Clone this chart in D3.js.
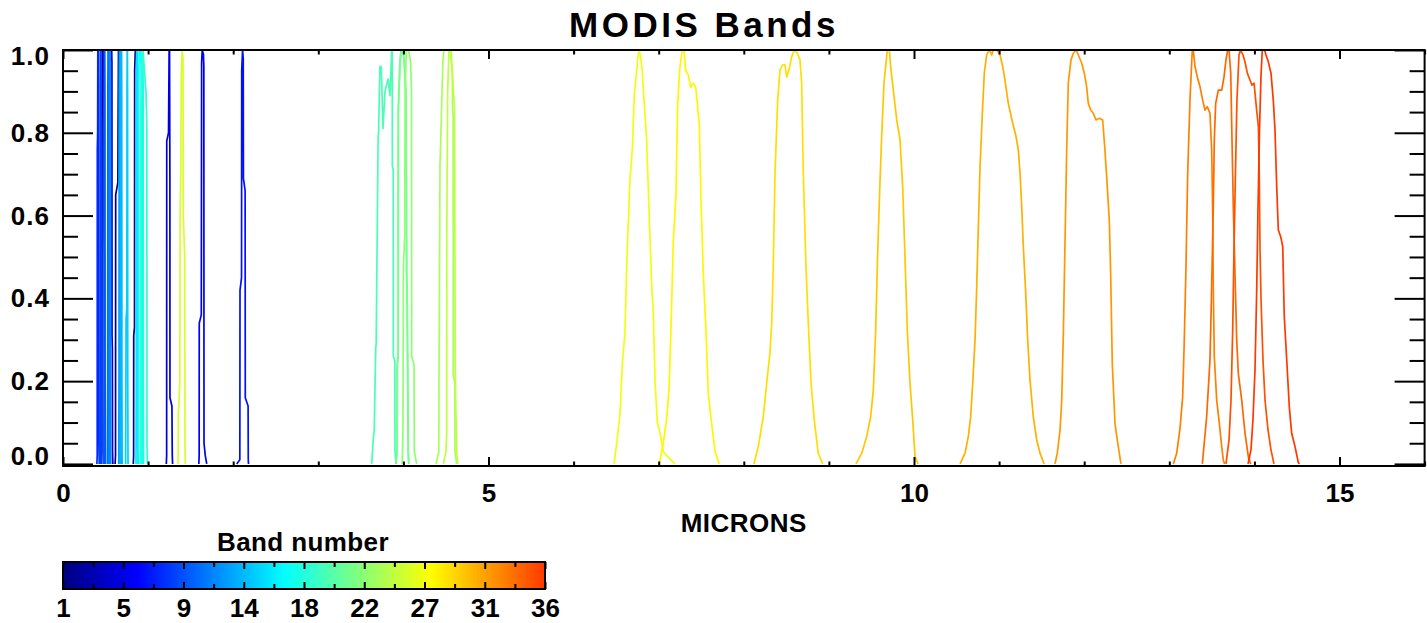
<!DOCTYPE html>
<html>
<head>
<meta charset="utf-8">
<script src="https://cdn.jsdelivr.net/npm/d3@7"></script>
<style>
	body { margin: 0; background: #fff; }
	text { font-family: "Liberation Sans", Arial, sans-serif; font-weight: bold; fill: #000; }
</style>
</head>
<body>
<div id="chart"></div>
<script>
// Relative spectral response of each MODIS band, [wavelength (microns), response]
const b01 = [[0.612,0],[0.617,0.02],[0.619,0.65],[0.645,0.68],[0.647,0.8],[0.652,1],[0.664,1],[0.669,0.95],[0.671,0.3],[0.676,0.02],[0.680,0]];
const b02 = [[0.826,0],[0.830,0.02],[0.831,0.31],[0.840,0.33],[0.842,0.95],[0.850,1],[0.865,1],[0.869,0.98],[0.870,0.52],[0.874,0.5],[0.877,0.05],[0.882,0]];
const b03 = [[0.452,0],[0.457,0.03],[0.459,0.8],[0.463,1],[0.478,1],[0.481,0.97],[0.482,0.56],[0.486,0.5],[0.488,0.05],[0.492,0]];
const b04 = [[0.540,0],[0.544,0.03],[0.546,0.85],[0.552,1],[0.572,1],[0.575,0.97],[0.576,0.31],[0.580,0.28],[0.582,0.03],[0.586,0]];
const b05 = [[1.214,0],[1.218,0.02],[1.219,0.78],[1.240,0.80],[1.247,1],[1.252,1],[1.256,0.70],[1.257,0.16],[1.280,0.14],[1.284,0.02],[1.288,0]];
const b06 = [[1.596,0],[1.600,0.02],[1.601,0.34],[1.625,0.36],[1.629,0.97],[1.636,1],[1.650,0.99],[1.655,0.96],[1.657,0.05],[1.672,0.02],[1.689,0]];
const b07 = [[2.041,0],[2.078,0.01],[2.080,0.42],[2.098,0.45],[2.100,0.95],[2.110,1],[2.118,0.98],[2.120,0.69],[2.140,0.66],[2.142,0.16],[2.175,0.14],[2.177,0.01],[2.180,0]];
const b08 = [[0.398,0],[0.402,0.02],[0.403,0.76],[0.407,0.8],[0.409,1],[0.418,1],[0.420,0.7],[0.422,0.05],[0.426,0]];
const b09 = [[0.434,0],[0.437,0.2],[0.439,0.9],[0.441,1],[0.446,1],[0.448,0.9],[0.450,0.2],[0.453,0]];
const b10 = [[0.479,0],[0.482,0.2],[0.484,0.9],[0.486,1],[0.491,1],[0.493,0.9],[0.495,0.2],[0.498,0]];
const b11 = [[0.522,0],[0.525,0.2],[0.527,0.9],[0.529,1],[0.534,1],[0.536,0.9],[0.538,0.2],[0.541,0]];
const b12 = [[0.542,0],[0.545,0.2],[0.547,0.9],[0.549,1],[0.554,1],[0.556,0.9],[0.558,0.2],[0.561,0]];
const b13 = [[0.655,0],[0.658,0.2],[0.660,0.9],[0.663,1],[0.668,1],[0.670,0.9],[0.672,0.2],[0.675,0]];
const b14 = [[0.672,0],[0.675,0.2],[0.677,0.9],[0.680,1],[0.688,1],[0.690,0.9],[0.692,0.2],[0.695,0]];
const b15 = [[0.736,0],[0.739,0.2],[0.741,0.35],[0.750,0.38],[0.752,0.9],[0.754,1],[0.757,1],[0.759,0.9],[0.761,0.2],[0.764,0]];
const b16 = [[0.858,0],[0.861,0.2],[0.863,0.9],[0.866,1],[0.873,1],[0.875,0.9],[0.877,0.2],[0.880,0]];
const b17 = [[0.880,0],[0.885,0.05],[0.888,0.9],[0.895,1],[0.915,1],[0.920,0.9],[0.924,0.05],[0.930,0]];
const b18 = [[0.925,0],[0.928,0.2],[0.930,0.9],[0.933,1],[0.940,1],[0.942,0.9],[0.944,0.2],[0.947,0]];
const b19 = [[0.905,0],[0.910,0.05],[0.913,0.85],[0.925,0.95],[0.940,1],[0.975,0.9],[0.985,0.82],[0.987,0.05],[0.992,0]];
const b20 = [[3.627,0],[3.650,0.07],[3.657,0.08],[3.675,0.28],[3.680,0.29],[3.703,0.79],[3.708,0.80],[3.724,0.96],[3.740,0.96],[3.760,0.81],[3.784,0.90],[3.819,0.93],[3.843,0.89],[3.862,1.0],[3.869,1.0],[3.870,0.72],[3.880,0.71],[3.881,0.26],[3.899,0.25],[3.901,0.03],[3.913,0]];
const b21 = [[3.910,0],[3.926,0.03],[3.928,0.24],[3.938,0.26],[3.940,0.86],[3.958,0.97],[3.972,1.0],[3.995,1.0],[4.010,0.97],[4.030,0.9],[4.038,0.45],[4.042,0.44],[4.056,0.03],[4.062,0]];
const b22 = [[3.912,0],[3.927,0.03],[3.929,0.24],[3.939,0.27],[3.941,0.85],[3.960,0.96],[3.975,1.0],[3.998,1.0],[4.012,0.96],[4.031,0.88],[4.039,0.44],[4.044,0.43],[4.058,0.03],[4.064,0]];
const b23 = [[3.985,0],[3.992,0.05],[3.995,0.09],[4.000,0.48],[4.015,0.55],[4.020,0.9],[4.035,1.0],[4.060,1.0],[4.085,0.97],[4.095,0.9],[4.097,0.26],[4.125,0.24],[4.128,0.03],[4.156,0]];
const b24 = [[4.383,0],[4.416,0.03],[4.418,0.17],[4.430,0.72],[4.465,0.98],[4.477,1.0],[4.547,1.0],[4.575,0.95],[4.577,0.86],[4.585,0.84],[4.586,0.21],[4.604,0.2],[4.606,0.03],[4.626,0]];
const b25 = [[4.470,0],[4.500,0.03],[4.509,0.075],[4.510,0.55],[4.520,0.9],[4.535,1.0],[4.560,1.0],[4.600,0.86],[4.606,0.5],[4.610,0.2],[4.626,0.03],[4.640,0]];
const b26 = [[1.352,0],[1.356,0.12],[1.373,0.20],[1.376,0.60],[1.386,0.75],[1.389,0.93],[1.400,1],[1.410,0.98],[1.414,0.60],[1.430,0.50],[1.433,0.05],[1.437,0]];
const b27 = [[6.475,0],[6.507,0.05],[6.545,0.12],[6.572,0.24],[6.604,0.32],[6.624,0.48],[6.663,0.69],[6.690,0.76],[6.713,0.89],[6.741,0.95],[6.760,0.99],[6.772,1.0],[6.789,0.98],[6.807,0.95],[6.827,0.88],[6.859,0.78],[6.890,0.59],[6.918,0.43],[6.937,0.36],[6.957,0.20],[6.984,0.10],[7.016,0.075],[7.054,0.03],[7.094,0.02],[7.192,0]];
const b28 = [[7.007,0],[7.054,0.05],[7.094,0.11],[7.121,0.18],[7.145,0.33],[7.172,0.54],[7.203,0.65],[7.223,0.87],[7.250,0.96],[7.277,1.0],[7.297,1.0],[7.317,0.95],[7.348,0.94],[7.376,0.91],[7.407,0.92],[7.435,0.91],[7.454,0.87],[7.477,0.82],[7.497,0.64],[7.524,0.46],[7.556,0.32],[7.583,0.17],[7.615,0.11],[7.662,0.03],[7.712,0]];
const b29 = [[8.119,0],[8.170,0.042],[8.229,0.114],[8.269,0.195],[8.307,0.268],[8.328,0.340],[8.346,0.476],[8.367,0.703],[8.398,0.879],[8.425,0.952],[8.457,0.964],[8.484,0.964],[8.504,0.935],[8.531,0.952],[8.563,0.984],[8.593,1.0],[8.628,0.993],[8.660,0.976],[8.680,0.92],[8.699,0.703],[8.731,0.476],[8.758,0.340],[8.790,0.195],[8.828,0.106],[8.875,0.026],[8.927,0]];
const b30 = [[9.318,0],[9.386,0.026],[9.444,0.066],[9.491,0.114],[9.522,0.179],[9.550,0.324],[9.573,0.51],[9.600,0.679],[9.620,0.791],[9.647,0.92],[9.671,0.968],[9.686,1.0],[9.710,1.0],[9.726,0.96],[9.757,0.903],[9.797,0.831],[9.836,0.783],[9.867,0.67],[9.894,0.501],[9.921,0.324],[9.953,0.195],[9.985,0.106],[10.012,0.017],[10.050,0]];
const b31 = [[10.541,0],[10.600,0.026],[10.638,0.066],[10.666,0.114],[10.690,0.195],[10.717,0.299],[10.737,0.428],[10.756,0.573],[10.776,0.718],[10.803,0.847],[10.826,0.944],[10.854,0.988],[10.885,1.0],[10.913,0.988],[10.932,1.0],[10.972,1.0],[11.011,0.988],[11.042,0.96],[11.069,0.927],[11.108,0.871],[11.160,0.823],[11.199,0.791],[11.226,0.758],[11.246,0.702],[11.266,0.621],[11.285,0.524],[11.313,0.412],[11.336,0.299],[11.363,0.203],[11.402,0.114],[11.442,0.058],[11.481,0.026],[11.528,0]];
const b32 = [[11.657,0],[11.684,0.026],[11.716,0.082],[11.736,0.154],[11.755,0.316],[11.775,0.541],[11.795,0.766],[11.813,0.92],[11.845,0.976],[11.872,0.992],[11.904,1.0],[11.931,0.988],[11.971,0.968],[12.001,0.944],[12.029,0.911],[12.048,0.871],[12.076,0.855],[12.107,0.847],[12.139,0.831],[12.177,0.835],[12.217,0.831],[12.244,0.758],[12.271,0.67],[12.295,0.589],[12.311,0.46],[12.330,0.242],[12.362,0.097],[12.401,0.041],[12.432,0]];
const b33 = [[13.047,0],[13.087,0.026],[13.126,0.086],[13.157,0.162],[13.176,0.299],[13.196,0.476],[13.216,0.702],[13.243,0.879],[13.270,1.0],[13.282,1.0],[13.302,0.96],[13.329,0.935],[13.361,0.911],[13.392,0.879],[13.419,0.855],[13.447,0.863],[13.478,0.847],[13.498,0.758],[13.510,0.605],[13.517,0.42],[13.529,0.259],[13.557,0.154],[13.588,0.098],[13.616,0.042],[13.635,0.009],[13.650,0]];
const b34 = [[13.388,0],[13.439,0.114],[13.478,0.251],[13.498,0.428],[13.517,0.621],[13.529,0.783],[13.545,0.871],[13.576,0.903],[13.616,0.903],[13.643,0.935],[13.666,0.976],[13.686,1.0],[13.702,1.0],[13.722,0.944],[13.733,0.823],[13.752,0.621],[13.772,0.46],[13.792,0.299],[13.811,0.219],[13.851,0.154],[13.890,0.074],[13.929,0.017],[13.957,0]];
const b35 = [[13.666,0],[13.702,0.058],[13.725,0.154],[13.745,0.324],[13.760,0.517],[13.778,0.71],[13.795,0.879],[13.819,0.988],[13.837,1.0],[13.866,0.988],[13.890,0.971],[13.917,0.944],[13.949,0.927],[13.972,0.915],[13.996,0.92],[14.023,0.862],[14.047,0.814],[14.058,0.686],[14.066,0.517],[14.078,0.396],[14.101,0.251],[14.125,0.154],[14.160,0.082],[14.195,0.034],[14.230,0]];
const b36 = [[13.925,0],[13.960,0.034],[13.983,0.106],[14.007,0.227],[14.027,0.42],[14.042,0.614],[14.060,0.807],[14.078,0.94],[14.093,1.0],[14.121,1.0],[14.136,0.988],[14.163,0.972],[14.195,0.944],[14.222,0.879],[14.242,0.807],[14.262,0.67],[14.281,0.565],[14.309,0.549],[14.333,0.525],[14.351,0.356],[14.380,0.251],[14.410,0.138],[14.438,0.074],[14.477,0.042],[14.516,0.003],[14.530,0]];

const bands = [b01,b02,b03,b04,b05,b06,b07,b08,b09,b10,b11,b12,b13,b14,b15,b16,b17,b18,
	b19,b20,b21,b22,b23,b24,b25,b26,b27,b28,b29,b30,b31,b32,b33,b34,b35,b36];

const xTicks = [0, 5, 10, 15];
const yTicks = [0.0, 0.2, 0.4, 0.6, 0.8, 1.0];
const cbTickLabels = ["1", "5", "9", "14", "18", "22", "27", "31", "36"];

const width = 1427, height = 623;
const svg = d3.select("#chart").append("svg")
	.attr("width", width).attr("height", height);

// plot area
const x = d3.scaleLinear().domain([0, 16]).range([63, 1424.6]);
const y = d3.scaleLinear().domain([-0.005, 1]).range([466, 50]);
const plotTop = y.range()[1], plotBottom = y.range()[0];

// jet-like colour table, band 1..36
function jet(t) {
	const c = v => Math.max(0, Math.min(1, v)) * 255;
	return d3.rgb(c(1.5 - Math.abs(4 * t - 3)), c(1.5 - Math.abs(4 * t - 2)), c(1.5 - Math.abs(4 * t - 1)));
}
const bandColor = b => jet(0.82 * (b - 1) / 35).formatHex();

svg.append("text")
	.attr("x", 704).attr("y", 37)
	.attr("text-anchor", "middle")
	.style("font-size", "35px").style("letter-spacing", "3.5px")
	.text("MODIS Bands");

svg.append("clipPath").attr("id", "plotclip")
	.append("rect")
	.attr("x", x(0)).attr("y", plotTop)
	.attr("width", x(16) - x(0)).attr("height", plotBottom - plotTop);

const line = d3.line().x(d => x(d[0])).y(d => y(d[1]));

svg.append("g").attr("clip-path", "url(#plotclip)")
	.selectAll("path.band")
	.data(bands)
	.join("path")
	.classed("band", true)
	.attr("d", line)
	.attr("fill", "none")
	.attr("stroke", (d, i) => bandColor(i + 1))
	.attr("stroke-width", 1.7)
	.attr("stroke-linejoin", "round");

// frame
svg.append("rect")
	.attr("x", x(0)).attr("y", plotTop)
	.attr("width", x(16) - x(0)).attr("height", plotBottom - plotTop)
	.attr("fill", "none").attr("stroke", "#000").attr("stroke-width", 2);

function ticks(g) {
	g.select(".domain").remove();
	g.selectAll(".tick line").attr("stroke-width", 2);
}

const xMinor = d3.range(0, 17).filter(v => !xTicks.includes(v));
const yMinor = d3.range(0, 21).map(i => i * 0.05).filter((v, i) => i % 4 !== 0);

// x axis, bottom + top
svg.append("g").attr("transform", `translate(0,${plotBottom})`)
	.call(d3.axisBottom(x).tickValues(xTicks).tickSizeInner(-9).tickSizeOuter(0).tickPadding(17.5).tickFormat(d3.format("d")))
	.call(ticks)
	.call(g => g.selectAll("text").style("font-size", "26px"));
svg.append("g").attr("transform", `translate(0,${plotBottom})`)
	.call(d3.axisBottom(x).tickValues(xMinor).tickSizeInner(-4.5).tickSizeOuter(0).tickFormat(""))
	.call(ticks);
svg.append("g").attr("transform", `translate(0,${plotTop})`)
	.call(d3.axisTop(x).tickValues(xTicks).tickSizeInner(-9).tickSizeOuter(0).tickFormat(""))
	.call(ticks);
svg.append("g").attr("transform", `translate(0,${plotTop})`)
	.call(d3.axisTop(x).tickValues(xMinor).tickSizeInner(-4.5).tickSizeOuter(0).tickFormat(""))
	.call(ticks);

// y axis, left + right
for (const [pos, axis] of [[x(0), d3.axisLeft], [x(16), d3.axisRight]]) {
	svg.append("g").attr("transform", `translate(${pos},0)`)
		.call(axis(y).tickValues(yTicks).tickSizeInner(-30).tickSizeOuter(0).tickFormat(""))
		.call(ticks);
	svg.append("g").attr("transform", `translate(${pos},0)`)
		.call(axis(y).tickValues(yMinor).tickSizeInner(-15).tickSizeOuter(0).tickFormat(""))
		.call(ticks);
}

svg.append("g").selectAll("text")
	.data(yTicks)
	.join("text")
	.attr("x", 50)
	.attr("y", d => Math.max(56, Math.min(456, y(d))) + 9)
	.attr("text-anchor", "end")
	.style("font-size", "26px").style("letter-spacing", "1px")
	.text(d3.format(".1f"));

svg.append("text")
	.attr("x", (x(0) + x(16)) / 2).attr("y", 532)
	.attr("text-anchor", "middle")
	.style("font-size", "26px").style("letter-spacing", "0.5px")
	.text("MICRONS");

// colour bar
const cb = d3.scaleLinear().domain([1, 36]).range([63, 545]);
const cbTop = 562, cbBottom = 589;
const cbMajor = cbTickLabels.map((d, i) => 1 + i * 35 / (cbTickLabels.length - 1));
const cbMinor = cbMajor.slice(1).map((d, i) => (d + cbMajor[i]) / 2);

svg.append("text")
	.attr("x", (cb(1) + cb(36)) / 2 - 1).attr("y", 551)
	.attr("text-anchor", "middle")
	.style("font-size", "26px").style("letter-spacing", "0.4px")
	.text("Band number");

svg.append("g").selectAll("rect")
	.data(d3.range(cb(1), cb(36), 1))
	.join("rect")
	.attr("x", d => d).attr("y", cbTop)
	.attr("width", 1.2).attr("height", cbBottom - cbTop)
	.attr("fill", d => bandColor(cb.invert(d)));

svg.append("rect")
	.attr("x", cb(1)).attr("y", cbTop)
	.attr("width", cb(36) - cb(1)).attr("height", cbBottom - cbTop)
	.attr("fill", "none").attr("stroke", "#000").attr("stroke-width", 2);

svg.append("g").attr("transform", `translate(0,${cbBottom})`)
	.call(d3.axisBottom(cb).tickValues(cbMajor).tickSizeInner(-7).tickSizeOuter(0).tickPadding(9.5)
		.tickFormat((d, i) => cbTickLabels[i]))
	.call(ticks)
	.call(g => g.selectAll("text").style("font-size", "26px"));
svg.append("g").attr("transform", `translate(0,${cbBottom})`)
	.call(d3.axisBottom(cb).tickValues(cbMinor).tickSizeInner(-5).tickSizeOuter(0).tickFormat(""))
	.call(ticks);
svg.append("g").attr("transform", `translate(0,${cbTop})`)
	.call(d3.axisTop(cb).tickValues(cbMajor).tickSizeInner(-7).tickSizeOuter(0).tickFormat(""))
	.call(ticks);
svg.append("g").attr("transform", `translate(0,${cbTop})`)
	.call(d3.axisTop(cb).tickValues(cbMinor).tickSizeInner(-5).tickSizeOuter(0).tickFormat(""))
	.call(ticks);
</script>
</body>
</html>
